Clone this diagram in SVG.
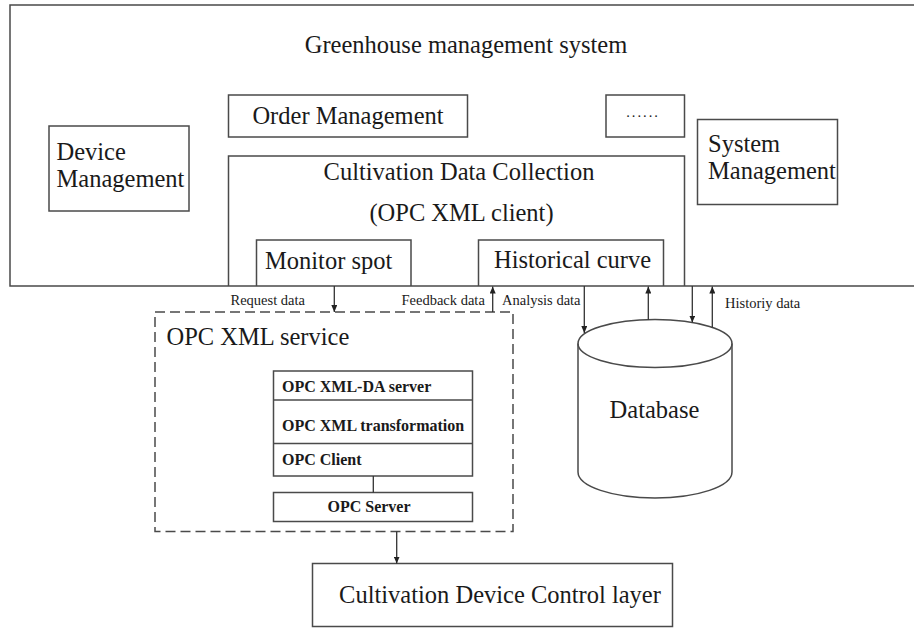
<svg xmlns="http://www.w3.org/2000/svg" width="914" height="628" viewBox="0 0 914 628">
<defs>
<style>
.box{fill:#fff;stroke:#4a4a4a;stroke-width:1.5}
.nofill{fill:none;stroke:#4a4a4a;stroke-width:1.5}
.dash{fill:none;stroke:#4a4a4a;stroke-width:1.5;stroke-dasharray:10 5}
text{font-family:'Liberation Serif','DejaVu Serif',serif;fill:#1a1a1a}
.t{font-size:24.5px}
.s{font-size:14.5px}
.b{font-size:16px;font-weight:bold}
.c{stroke:#333;stroke-width:1.3;fill:none}
</style>
<marker id="ah" markerUnits="userSpaceOnUse" markerWidth="8" markerHeight="6" refX="7" refY="3" orient="auto">
<path d="M0,0 L7,3 L0,6 z" fill="#222"/>
</marker>
</defs>
<rect width="914" height="628" fill="#fff"/>

<g id="greenhouse-system">
<path class="nofill" d="M916,5 H10 V286 H916"/>
<text class="t" x="466" y="53" text-anchor="middle">Greenhouse management system</text>
</g>

<g id="order-management">
<rect class="box" x="228.5" y="95" width="239" height="42"/>
<text class="t" x="348" y="124" text-anchor="middle">Order Management</text>
</g>

<g id="ellipsis-box">
<rect class="box" x="606" y="95" width="78.5" height="42"/>
<text class="s" x="643" y="117" text-anchor="middle" letter-spacing="2">......</text>
</g>

<g id="device-management">
<rect class="box" x="49" y="126" width="140" height="85"/>
<text class="t" x="56.5" y="160">Device</text>
<text class="t" x="56.5" y="187">Management</text>
</g>

<g id="system-management">
<rect class="box" x="697.5" y="119.5" width="140" height="85"/>
<text class="t" x="708" y="152">System</text>
<text class="t" x="708" y="179">Management</text>
</g>

<g id="cultivation-data-collection">
<path class="nofill" d="M228.5,286 V156 H684.5 V286"/>
<text class="t" x="459" y="180" text-anchor="middle">Cultivation Data Collection</text>
<text class="t" x="461.5" y="221" text-anchor="middle">(OPC XML client)</text>
</g>

<g id="monitor-spot">
<path class="nofill" d="M256.5,286 V240 H411 V286"/>
<text class="t" x="265" y="269">Monitor spot</text>
</g>

<g id="historical-curve">
<path class="nofill" d="M478.5,286 V240 H663.5 V286"/>
<text class="t" x="494" y="268">Historical curve</text>
</g>

<g id="opc-xml-service">
<rect class="dash" x="155" y="312" width="358" height="219.5"/>
<text class="t" x="166.5" y="345">OPC XML service</text>
</g>

<g id="opc-stack">
<rect class="box" x="273.5" y="371" width="199" height="105"/>
<line class="nofill" x1="273.5" y1="400" x2="472.5" y2="400"/>
<line class="nofill" x1="273.5" y1="443.5" x2="472.5" y2="443.5"/>
<text class="b" x="282" y="392">OPC XML-DA server</text>
<text class="b" x="282" y="431">OPC XML transformation</text>
<text class="b" x="282" y="465">OPC Client</text>
</g>

<g id="opc-server">
<rect class="box" x="273.5" y="492.5" width="199" height="29"/>
<text class="b" x="369" y="512" text-anchor="middle">OPC Server</text>
</g>

<g id="database">
<path class="nofill" d="M578,343.5 V472 A77,26 0 0 0 732,472 V343.5"/>
<ellipse class="nofill" cx="655" cy="343.5" rx="77" ry="24"/>
<text class="t" x="654.5" y="418" text-anchor="middle">Database</text>
</g>

<g id="device-control-layer">
<rect class="box" x="312.5" y="563.5" width="360" height="63"/>
<text class="t" x="500" y="603" text-anchor="middle">Cultivation Device Control layer</text>
</g>

<g id="connectors">
<line class="c" x1="334.3" y1="286" x2="334.3" y2="312" marker-end="url(#ah)"/>
<line class="c" x1="492.7" y1="312" x2="492.7" y2="286.5" marker-end="url(#ah)"/>
<line class="c" x1="584.3" y1="286" x2="584.3" y2="333" marker-end="url(#ah)"/>
<line class="c" x1="648.3" y1="319.7" x2="648.3" y2="286.5" marker-end="url(#ah)"/>
<line class="c" x1="692.3" y1="286" x2="692.3" y2="322.5" marker-end="url(#ah)"/>
<line class="c" x1="712.3" y1="327.5" x2="712.3" y2="286.5" marker-end="url(#ah)"/>
<line class="c" x1="373.3" y1="476" x2="373.3" y2="492.5"/>
<line class="c" x1="396.7" y1="531.5" x2="396.7" y2="563.5" marker-end="url(#ah)"/>
<text class="s" x="230.5" y="305">Request data</text>
<text class="s" x="401.5" y="305">Feedback data</text>
<text class="s" x="502" y="305">Analysis data</text>
<text class="s" x="725" y="308">Historiy data</text>
</g>
</svg>
